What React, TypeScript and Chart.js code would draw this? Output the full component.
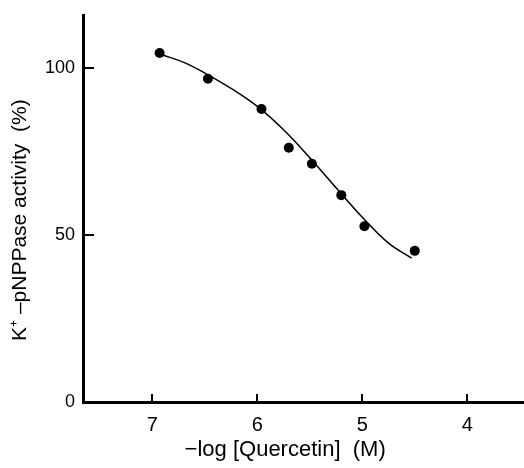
import React, { useEffect, useRef } from "react";
import { Chart, registerables } from "chart.js";

// Measured points: -log[Quercetin] (M) vs K+-pNPPase activity (%)
const pointX = [6.93, 6.47, 5.96, 5.7, 5.48, 5.2, 4.98, 4.5];
const pointY = [104.6, 96.9, 87.8, 76.2, 71.4, 62.0, 52.7, 45.3];

// Fitted curve
const curveX = [6.9, 6.7, 6.5, 6.25, 6.0, 5.75, 5.5, 5.25, 5.0, 4.75, 4.53];
const curveY = [104.0, 101.8, 98.6, 94.0, 88.6, 81.6, 73.2, 64.2, 55.4, 47.6, 43.1];

const xTicks = [7, 6, 5, 4];
const yTicks = [0, 50, 100];

const xTitle = "\u2212log [Quercetin]  (M)";
const yTitle = "K\u207A \u2013pNPPase activity  (%)";

const FONT = "'Liberation Sans', Arial, Helvetica, sans-serif";

const innerTicks = {
  id: "innerTicks",
  afterDraw(chart: any) {
    const ctx: CanvasRenderingContext2D = chart.ctx;
    const xs = chart.scales.x;
    const ys = chart.scales.y;
    const bottom = xs.top;
    const left = ys.right;
    ctx.save();
    ctx.fillStyle = "#000";
    for (let i = 0; i < xTicks.length; i++) {
      const px = xs.getPixelForValue(xTicks[i]);
      ctx.fillRect(Math.round(px) - 1, bottom - 8, 2, 8);
    }
    for (let i = 0; i < yTicks.length; i++) {
      if (yTicks[i] === 0) continue;
      const py = ys.getPixelForValue(yTicks[i]);
      ctx.fillRect(left, Math.round(py) - 1, 11, 2);
    }
    ctx.restore();
  },
};

Chart.register(...registerables);

export default function App() {
  const ref = useRef<HTMLCanvasElement | null>(null);

  useEffect(() => {
    document.body.style.margin = "0";
    const canvas = ref.current;
    if (!canvas) return;
    const chart = new Chart(canvas, {
      type: "scatter",
      plugins: [innerTicks],
      data: {
        datasets: [
          {
            label: "curve",
            data: curveX.map((x, i) => ({ x, y: curveY[i] })),
            showLine: true,
            borderColor: "#000",
            borderWidth: 1.5,
            pointRadius: 0,
            tension: 0.4,
            fill: false,
          },
          {
            label: "points",
            data: pointX.map((x, i) => ({ x, y: pointY[i] })),
            showLine: false,
            backgroundColor: "#000",
            borderColor: "#000",
            pointRadius: 5,
            borderWidth: 0,
          },
        ],
      },
      options: {
        responsive: false,
        animation: false,
        events: [],
        layout: { autoPadding: false, padding: { top: 15, right: 0, left: 0, bottom: 0 } },
        plugins: {
          legend: { display: false },
          tooltip: { enabled: false },
        },
        scales: {
          x: {
            type: "linear",
            reverse: true,
            min: 3.46,
            max: 7.66,
            afterBuildTicks: (s: any) => {
              s.ticks = xTicks.map((v) => ({ value: v }));
            },
            afterFit: (s: any) => {
              s.height = 66;
              s.paddingLeft = 0;
              s.paddingRight = 0;
            },
            border: { display: true, color: "#000", width: 3 },
            grid: {
              drawOnChartArea: false,
              drawTicks: false,
            },
            ticks: {
              color: "#000",
              padding: 11,
              font: { family: FONT, size: 20 },
              callback: (v: any) => String(v),
            },
            title: {
              display: true,
              text: xTitle + "\u00A0\u00A0\u00A0\u00A0\u00A0\u00A0",
              color: "#000",
              font: { family: FONT, size: 22 },
              padding: { top: 0, bottom: 5 },
            },
          },
          y: {
            type: "linear",
            min: 0,
            max: 116,
            afterBuildTicks: (s: any) => {
              s.ticks = yTicks.map((v) => ({ value: v }));
            },
            afterFit: (s: any) => {
              s.width = 83;
              s.paddingTop = 0;
              s.paddingBottom = 0;
            },
            border: { display: true, color: "#000", width: 3 },
            grid: {
              drawOnChartArea: false,
              drawTicks: false,
            },
            ticks: {
              color: "#000",
              padding: 8,
              font: { family: FONT, size: 18 },
              callback: (v: any) => String(v),
            },
            title: {
              display: true,
              text: yTitle + "\u00A0\u00A0\u00A0\u00A0",
              color: "#000",
              font: { family: FONT, size: 21 },
              padding: { top: 8, bottom: 0 },
            },
          },
        },
      },
    });
    return () => chart.destroy();
  }, []);

  return (
    <div style={{ width: 524, height: 468, background: "#fff" }}>
      <canvas ref={ref} width={524} height={468} style={{ display: "block", width: 524, height: 468 }} />
    </div>
  );
}
